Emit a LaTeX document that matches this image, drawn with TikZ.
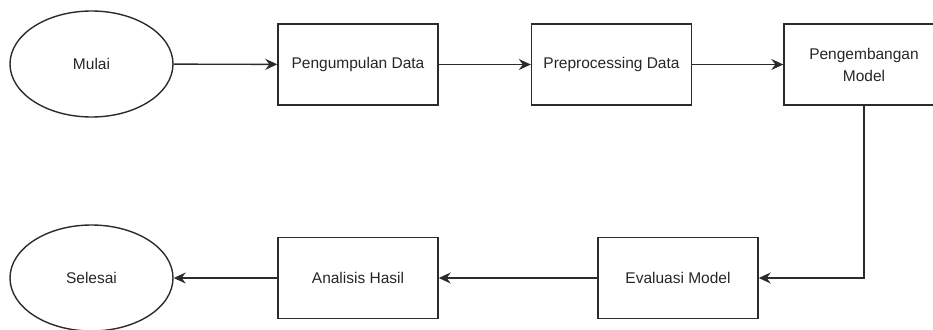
\documentclass[tikz,border=0pt]{standalone}
\usepackage{fontspec}
\setmainfont{Liberation Sans}
\usetikzlibrary{arrows.meta,shapes.geometric}
\definecolor{ln}{HTML}{2B2B2B}
\definecolor{tx}{HTML}{262626}
\begin{document}
\begin{tikzpicture}[x=1pt,y=-1pt,
  every node/.style={font=\fontsize{15.5}{22}\selectfont, text=tx},
  box/.style={draw=ln, line width=1.4pt, rectangle, minimum width=160pt, minimum height=81pt, inner sep=0pt, align=center},
  oval/.style={draw=ln, line width=1.4pt, ellipse, minimum width=163pt, minimum height=106pt, inner sep=0pt},
  conn/.style={draw=ln, line width=1.4pt, -{Stealth[length=12pt,width=11pt,inset=4pt]}}]
\useasboundingbox (0,0) rectangle (933,329);
\node[oval] (mulai) at (91.5,64) {Mulai};
\node[box] (kumpul) at (358,64.5) {Pengumpulan Data};
\node[box] (prep) at (611.5,64.5) {Preprocessing Data};
\node[box] (kembang) at (864,64.5) {Pengembangan\\Model};
\node[box] (eval) at (678,278) {Evaluasi Model};
\node[box] (analisis) at (358,278) {Analisis Hasil};
\node[oval] (selesai) at (91.5,278) {Selesai};
\draw[conn] (mulai) -- (kumpul);
\draw[conn] (kumpul) -- (prep);
\draw[conn] (prep) -- (kembang);
\draw[conn] (kembang.south) |- (eval.east);
\draw[conn] (eval) -- (analisis);
\draw[conn] (analisis) -- (selesai);
\end{tikzpicture}
\end{document}
